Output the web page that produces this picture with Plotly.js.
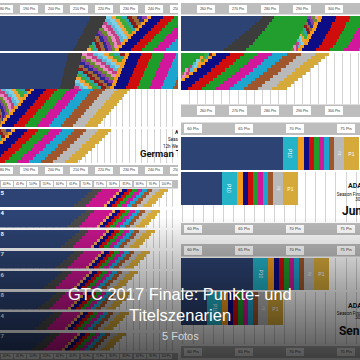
<!DOCTYPE html>
<html><head><meta charset="utf-8">
<script src="https://cdn.plot.ly/plotly-3.0.1.min.js"></script>
<style>html,body{margin:0;padding:0;background:#fff}#c{width:360px;height:360px}</style>
</head><body><div id="c"></div>
<script>
// ================= DATA =================
// Photo 1 (left, top) - German Trophy, x in Pts
const p1Ticks = [180,190,200,210,220,230,240,250];
const p1Labels = ["180 Pts","190 Pts","200 Pts","210 Pts","220 Pts","230 Pts","240 Pts","250 Pts"];
const A_blue = [214.4,214.0,213.2,212.8,212.0,211.6,210.8,210.4,209.6,209.2,208.4,207.6];
const A_gray = [6.4,6.4,6.2,6.2,6.0,6.0,6.0,5.8,5.8,5.8,5.6,5.6];
const A_mos  = [16.4,15.6,15.4,14.6,14.4,13.6,13.2,13.0,12.6,11.8,11.6,11.2];
const B_blue = [205.6,205.2,205.2,204.8,204.4,204.0,204.0,203.6,203.2,202.8,202.8,202.4,172,172,172,172,172,172,172,172,172,172,172,172,172];
const B_gray = [5.6,5.6,5.6,5.6,5.6,5.6,5.6,5.6,5.6,5.6,5.6,5.6,3,3,3,3,3,3,3,3,3,3,3,3,3];
const B_mos  = [17.2,17.2,16.4,16.4,16.4,16.0,15.6,15.6,15.2,15.2,14.8,14.4,15.4,14.2,13.0,12.2,11.0,10.2,9.0,7.8,7.0,5.8,4.6,3.8,2.6];
const C_blue = [165,165,165,165,165,165,165,165,165,165,165];
const C_gray = [2,2,2,2,2,2,2,2,2,2,2];
const C_mos  = [15.8,14.6,13.4,12.2,11.0,9.4,8.2,6.6,5.4,4.2,2.6];
const p1Bands = [1.6,4.8,4.4,4.8,4.8,4.8,4.8,4.8,5.2]; // P9..P1
const p1Title = ["<b>ADAC</b>","Season Finale","12h Wertung","<b>German Trophy</b>"];

// Photo 2 (right, top)
const p2Ticks = [260,270,280,290,300];
const p2Labels = ["260 Pts","270 Pts","280 Pts","290 Pts","300 Pts"];
const D_blue = [277.5,276.5,275.3,274.4,273.4,272.2,271.2,270.3,269.0,268.1,266.9,265.6];
const D_gray = [3.8,4.1,4.4,4.7,5.0,5.3,5.6,5.9,6.3,6.6,6.6,6.9];
const D_p12  = [10.6,10.9,11.3,11.6,11.9,12.2,12.5,12.8,13.1,13.4,13.8,14.1];
const D_mos  = [3.1,3.1,2.8,2.8,2.8,2.8,2.5,2.5,2.5,2.5,2.2,2.2];
const E_blue = [240,240,240,240,240,240,240,240,240,240,240,240];
const E_p12  = [19.4,18.1,16.9,15.9,14.7,13.4,12.2,10.9,9.7,8.4,7.5,6.2];
const E_mos  = [2.5,2.5,2.5,2.5,2.5,2.5,2.5,2.5,2.5,2.5,2.5,2.5];
const p2Bands = [1.25,4.4,4.4,4.4,4.4,4.4,4.4,4.4,4.4];

// Photo 3 (right, middle) - Junior ; Photo 5 (right, bottom) - Senior
const p3Ticks = [60,65,70,75];
const p3Labels = ["60 Pts","65 Pts","70 Pts","75 Pts"];
const F_blue = [68.82];
const G_blue = [62.84];
const H_blue = [65.88];
const I_blue = [61.37];
const p3P10 = 1.47;
const p3Bands = [0.59,0.49,0.49,0.49,0.49,0.49,0.49,0.98,1.47];
const p3Title = ["<b>ADAC</b>","Season Finale","30.09.2017","<b>Junior</b>"];
const p5Title = ["<b>ADAC</b>","Season Finale","30.09.2017","<b>Senior</b>"];

// Photo 4 (left, bottom) - 8 driver panels
const p4Ticks = [40,45,50,55,60,65,70,75,80,85,90,95,100];
const p4Labels = ["40 Pts","45 Pts","50 Pts","55 Pts","60 Pts","65 Pts","70 Pts","75 Pts","80 Pts","85 Pts","90 Pts","95 Pts","100 Pts"];
const p4Numbers = ["5","4","8","7","6","8","4","7"];
const p4Blue = [
 [72.1,70.6,69.4,67.9,66.8,65.3],
 [69.4,67.9,66.8,65.3,64.2,62.7],
 [67.2,65.7,64.6,63.1,61.9,60.4],
 [65.3,63.8,62.7,61.2,60.0,58.5],
 [60.8,59.3,58.2,56.7,55.5,54.0],
 [58.5,57.0,55.9,54.4,53.3,51.8],
 [57.4,55.9,54.8,53.3,52.1,50.6],
 [56.3,54.8,53.6,52.1,51.0,49.5]];
const p4Gray = [3.4,3.6,3.8,4.0,4.2,4.4];
const p4Wide = [6.8,6.8,6.8,6.8,6.8,6.8];
const p4Bands = [1.1,1.9,1.9,1.9,1.9,1.9,1.9,2.3,3.4];

// ================= STYLE =================
const W=360,H=360;
const COL = {blue:'#2d4373',dgray:'#3c3c3c',orange:'#f39b1d',navy:'#0c0c85',red:'#d00d0d',green:'#1f9d2b',
  magenta:'#d1179b',cyan:'#1ca6cf',brown:'#a0562c',silver:'#b9b9b9',gold:'#d6aa3a',cyan10:'#25b3c8',
  p12:'#229e2e',p4gray:'#4a4a4a',p4mag:'#c9168f',tan:'#e6a24f'};
const bandColors = [COL.orange,COL.navy,COL.red,COL.green,COL.magenta,COL.cyan,COL.brown,COL.silver,COL.gold];
const p4BandColors = [COL.tan,COL.navy,COL.red,COL.green,COL.magenta,COL.cyan,COL.brown,COL.silver,COL.gold];
const bandNames = ['P9','P8','P7','P6','P5','P4','P3','P2','P1'];
const mosaicPalette = ['#7fd0e6','#8a3fa6','#3daa3a','#e78ac6','#8b1c1c','#5fb8d8','#2a2a90','#f2a23a','#6d8b2f','#2aa6a6','#c04080','#9a6a3a'];

const layout = {width:W,height:H,margin:{l:0,r:0,t:0,b:0},paper_bgcolor:'#ffffff',plot_bgcolor:'rgba(0,0,0,0)',
  barmode:'stack',bargap:0,showlegend:false,shapes:[],annotations:[]};
const traces = [];
let axN = 0;
function mkAx(xr,x0,x1,y0,y1,yr,dtick){
  axN++; const s = axN===1?'':String(axN);
  layout['xaxis'+s] = {domain:[x0/W,x1/W],range:xr,anchor:'y'+s,showticklabels:false,ticks:'',showline:false,zeroline:false,
    showgrid:!!dtick,dtick:dtick||1,tick0:0,gridcolor:'#d3d3d3',gridwidth:1,fixedrange:true};
  layout['yaxis'+s] = {domain:[1-y1/H,1-y0/H],range:yr,anchor:'x'+s,showticklabels:false,ticks:'',showline:false,
    zeroline:false,showgrid:false,fixedrange:true};
  return {x:'x'+s,y:'y'+s};
}
function panel(xr,x0,x1,y0,yRows,y1,dtick,segs){
  const n = segs[0].x.length;
  const rowPx = (yRows-y0)/n;
  const extra = (y1-yRows)/rowPx;
  const ax = mkAx(xr,x0,x1,y0,y1,[n-0.5+extra,-0.5],dtick);
  const rows = segs[0].x.map((_,i)=>i);
  segs.forEach(s=>traces.push({type:'bar',orientation:'h',x:s.x,y:rows,xaxis:ax.x,yaxis:ax.y,name:s.name||'',
    marker:{color:s.color,line:{width:0}},text:s.text,textposition:s.text?'inside':'none',insidetextanchor:'middle',
    textfont:{size:5,color:'#ffffff',family:'Liberation Sans'},hoverinfo:'skip'}));
  return ax;
}
function rep(v,n){return Array.from({length:n},()=>v);}
function bandSegs(widths,n,colors){return widths.map((w,j)=>({x:rep(w,n),color:colors[j],name:bandNames[j]}));}
function mosaic(mos,slots,seed){
  const out=[];
  for(let k=0;k<slots;k++){
    out.push({x:mos.map(m=>m/slots),color:mos.map((_,i)=>mosaicPalette[(i*5+k*7+seed)%mosaicPalette.length]),name:'P10+'});
  }
  return out;
}
function band(xr,x0,x1,y0,y1,ticks,labels,boxW,fs){
  const ax = mkAx(xr,x0,x1,y0,y1,[-0.2,1.2],0);
  layout.shapes.push({type:'rect',xref:ax.x+' domain',yref:ax.y+' domain',x0:0,x1:1,y0:0,y1:1,fillcolor:'#bdbdbd',line:{width:0},layer:'below'});
  traces.push({type:'bar',orientation:'v',x:ticks,y:ticks.map(()=>1),width:boxW,xaxis:ax.x,yaxis:ax.y,
    marker:{color:'#ffffff',line:{width:0}},hoverinfo:'skip'});
  traces.push({type:'scatter',mode:'text',x:ticks,y:ticks.map(()=>0.5),text:labels,xaxis:ax.x,yaxis:ax.y,
    textfont:{size:fs,color:'#333333',family:'Liberation Sans'},textposition:'middle center',hoverinfo:'skip'});
}
function textBlock(ax,xs,ys,texts,sizes,color){
  traces.push({type:'scatter',mode:'text',x:xs,y:ys,text:texts,xaxis:ax.x,yaxis:ax.y,cliponaxis:true,
    textposition:'middle right',textfont:{size:sizes,color:color||'#111111',family:'Roboto, Liberation Sans'},hoverinfo:'skip'});
}

// ---------- Photo 1 ----------
const xr1=[178.4,249.6];
band(xr1,0,178,3,14.5,p1Ticks,p1Labels,7,3.6);
panel(xr1,0,178,16,51,51,2.5,[{x:A_blue,color:COL.blue},{x:A_gray,color:COL.dgray},...mosaic(A_mos,8,0),...bandSegs(p1Bands,A_blue.length,bandColors)]);
panel(xr1,0,178,53,127,127,2.5,[{x:B_blue,color:COL.blue},{x:B_gray,color:COL.dgray},...mosaic(B_mos,8,3),...bandSegs(p1Bands,B_blue.length,bandColors)]);
const axC = panel(xr1,0,178,129,163,163,2.5,[{x:C_blue,color:COL.blue},{x:C_gray,color:COL.dgray},...mosaic(C_mos,8,5),...bandSegs(p1Bands,C_blue.length,bandColors)]);
textBlock(axC,[248.4,245.6,243.6,234.4],[0.8,3.1,5.2,7.9],p1Title,[5,4.5,4.5,9.5]);
band(xr1,0,178,165,176,p1Ticks,p1Labels,7,3.6);

// ---------- Photo 2 ----------
const xr2=[252.2,308.1];
band(xr2,181,360,3,14.5,p2Ticks,p2Labels,5.6,3.6);
panel(xr2,181,360,16,51,51,2.5,[{x:D_blue,color:COL.blue},{x:D_gray,color:COL.dgray},{x:D_p12,color:COL.p12,name:'P12'},...mosaic(D_mos,3,1),...bandSegs(p2Bands,D_blue.length,bandColors)]);
panel(xr2,181,360,53,90,104,2.5,[{x:E_blue,color:COL.blue},{x:E_p12,color:COL.p12,name:'P12'},...mosaic(E_mos,3,2),...bandSegs(p2Bands,E_blue.length,bandColors)]);
band(xr2,181,360,104.5,117,p2Ticks,p2Labels,5.6,3.6);

// ---------- Photo 3 ----------
const xr3=[58.82,76.37];
function p3segs(blue){return [{x:blue,color:COL.blue},{x:[p3P10],color:COL.cyan10,name:'P10',text:['P10']},
  ...p3Bands.map((w,j)=>({x:[w],color:bandColors[j],name:bandNames[j],text:(j>=7?['P'+(9-j)]:undefined)}))];}
band(xr3,181,360,122.5,135,p3Ticks,p3Labels,1.75,4);
panel(xr3,181,360,137,170,170,1,p3segs(F_blue));
const axG = panel(xr3,181,360,172,205,222,1,p3segs(G_blue));
textBlock(axG,[75.2,74.1,75.9,74.6],[-0.08,0.2,0.35,0.71],p3Title,[7,4.5,4.5,12]);
band(xr3,181,360,223,235,p3Ticks,p3Labels,1.75,4);

// ---------- Photo 5 ----------
band(xr3,181,360,244,256.5,p3Ticks,p3Labels,1.75,4);
panel(xr3,181,360,258,290,290,1,p3segs(H_blue));
const axI = panel(xr3,181,360,292,325,344,1,p3segs(I_blue));
textBlock(axI,[75.2,74.1,75.9,74.3],[-0.08,0.17,0.29,0.71],p5Title,[7,4.5,4.5,12]);
band(xr3,181,360,346,358,p3Ticks,p3Labels,1.75,4);

// ---------- Photo 4 ----------
const xr4=[37.48,104.4];
band(xr4,0,178,180,188.5,p4Ticks,p4Labels,4.5,2.8);
const p4Tops=[189,209.5,230,250.5,271,291.5,312,332.5];
p4Blue.forEach((blue,k)=>{
  const ax = panel(xr4,0,178,p4Tops[k],p4Tops[k]+18,p4Tops[k]+18,2.5,[{x:blue,color:COL.blue},{x:p4Gray,color:COL.p4gray},{x:p4Wide,color:COL.p4mag,name:'P10'},...bandSegs(p4Bands,blue.length,p4BandColors)]);
  textBlock(ax,[xr4[0]+0.2],[0.9],['<b>'+p4Numbers[k]+'</b>'],[6],'#ffffff');
});
band(xr4,0,178,353,362,p4Ticks,p4Labels,4.5,2.8);

// ---------- dark gradient overlay ----------
for(let y=216;y<360;y+=2){
  const a = 0.68*Math.pow((y-216)/144,0.95);
  layout.shapes.push({type:'rect',xref:'paper',yref:'paper',x0:0,x1:1,y0:1-(y+2)/H,y1:1-y/H,
    fillcolor:'rgba(0,0,0,'+a.toFixed(3)+')',line:{width:0},layer:'above'});
}
// ---------- album caption ----------
layout.annotations.push({xref:'paper',yref:'paper',x:0.5,y:1-294/H,xanchor:'center',yanchor:'middle',showarrow:false,
  text:'GTC 2017 Finale: Punkte- und',font:{family:'Liberation Sans, Arial',size:16.5,color:'#ffffff'}});
layout.annotations.push({xref:'paper',yref:'paper',x:0.5,y:1-314.5/H,xanchor:'center',yanchor:'middle',showarrow:false,
  text:'Titelszenarien',font:{family:'Liberation Sans, Arial',size:16.5,color:'#ffffff'}});
layout.annotations.push({xref:'paper',yref:'paper',x:0.5,y:1-336/H,xanchor:'center',yanchor:'middle',showarrow:false,
  text:'5 Fotos',font:{family:'Liberation Sans, Arial',size:11,color:'#d6d6d6'}});

Plotly.newPlot('c',traces,layout,{staticPlot:true,displayModeBar:false});
</script></body></html>
